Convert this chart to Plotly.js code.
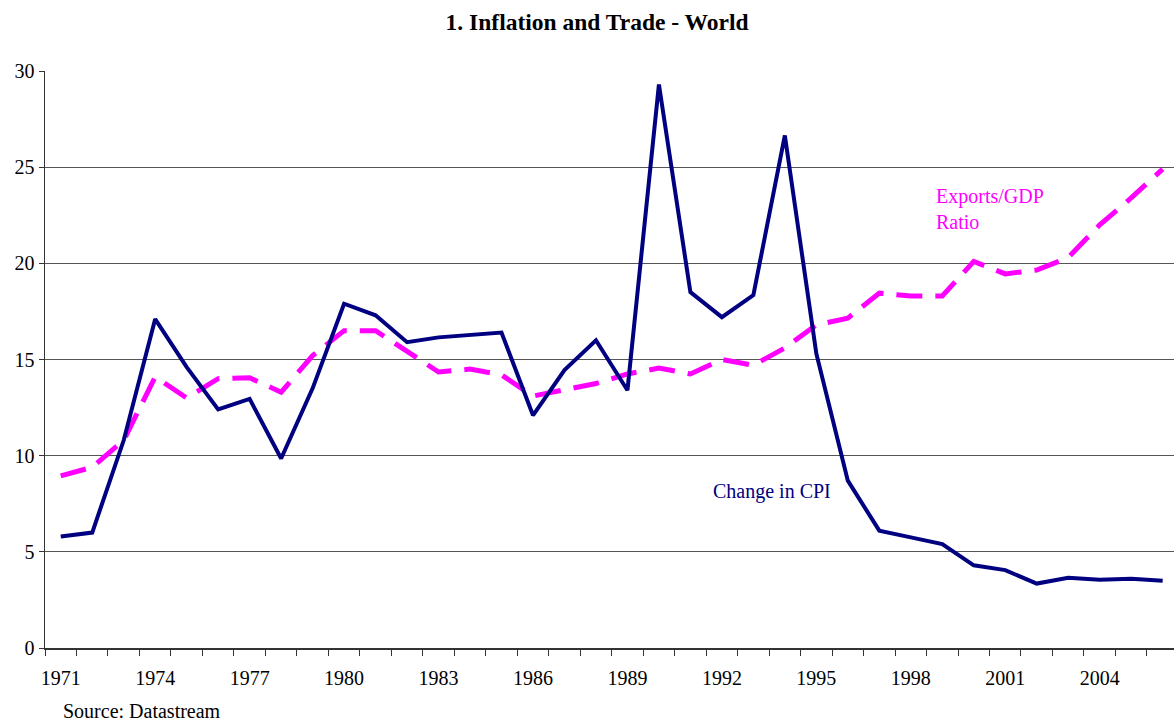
<!DOCTYPE html>
<html>
<head>
<meta charset="utf-8">
<script src="https://cdn.plot.ly/plotly-3.0.1.min.js"></script>
<style>html,body{margin:0;padding:0;background:#fff;}#chart{width:1174px;height:721px;}</style>
</head>
<body>
<div id="chart"></div>
<script>
const years = [1971,1972,1973,1974,1975,1976,1977,1978,1979,1980,1981,1982,1983,1984,1985,1986,1987,1988,1989,1990,1991,1992,1993,1994,1995,1996,1997,1998,1999,2000,2001,2002,2003,2004,2005,2006];
const cpiChange = [5.8,6.0,10.8,17.1,14.6,12.4,12.95,9.85,13.5,17.9,17.3,15.9,16.15,16.25,16.4,12.1,14.45,16.0,13.4,29.3,18.5,17.2,18.35,26.65,15.3,8.7,6.1,5.75,5.4,4.3,4.05,3.35,3.65,3.55,3.6,3.5];
const exportsGdp = [8.95,9.4,10.8,14.1,13.0,14.0,14.05,13.3,15.2,16.5,16.5,15.4,14.35,14.5,14.2,13.1,13.4,13.75,14.25,14.55,14.25,15.0,14.7,15.6,16.8,17.15,18.45,18.3,18.3,20.1,19.45,19.65,20.3,22.0,23.4,24.9];
const tickYears = [1971,1974,1977,1980,1983,1986,1989,1992,1995,1998,2001,2004];

const serif = 'Liberation Serif, Times New Roman, serif';

const traces = [
  {x: years, y: exportsGdp, type: 'scatter', mode: 'lines', name: 'Exports/GDP Ratio',
   line: {color: '#ff00ff', width: 5, dash: '26px,13px'}},
  {x: years, y: cpiChange, type: 'scatter', mode: 'lines', name: 'Change in CPI',
   line: {color: '#000080', width: 4}}
];

const layout = {
  width: 1174, height: 721,
  margin: {l: 45, r: 0, t: 71, b: 73, pad: 0},
  paper_bgcolor: '#fff', plot_bgcolor: '#fff',
  showlegend: false,
  font: {family: serif, color: '#000', size: 20},
  title: {text: '<b>1. Inflation and Trade - World</b>', x: 0.489, xref: 'paper', y: 0.97, yanchor: 'middle',
          font: {family: serif, size: 23.5, color: '#000'}},
  xaxis: {
    range: [1970.5, 2006.36], showgrid: false, zeroline: false,
    showline: true, linecolor: '#333', linewidth: 1.5,
    tickmode: 'array', tickvals: tickYears, ticktext: tickYears.map(String),
    ticks: '', ticklabelstandoff: 11,
    minor: {tick0: 1970.5, dtick: 1, ticks: 'outside', ticklen: 6, tickcolor: '#333', showgrid: false},
    tickfont: {family: serif, size: 20, color: '#000'}
  },
  yaxis: {
    range: [0, 30], tickvals: [0,5,10,15,20,25,30],
    showgrid: true, gridcolor: '#555', gridwidth: 1, zeroline: false,
    showline: true, linecolor: '#333', linewidth: 1.5,
    ticks: 'outside', ticklen: 5, tickcolor: '#333',
    tickfont: {family: serif, size: 20, color: '#000'}
  },
  annotations: [
    {x: 1998.75, y: 22.8, xref: 'x', yref: 'y', text: 'Exports/GDP<br>Ratio', showarrow: false,
     xanchor: 'left', align: 'left', font: {family: serif, size: 20, color: '#ff00ff'}},
    {x: 1991.65, y: 8.15, xref: 'x', yref: 'y', text: 'Change in CPI', showarrow: false,
     xanchor: 'left', font: {family: serif, size: 20, color: '#000080'}},
    {x: 0.014, y: -0.109, xref: 'paper', yref: 'paper', text: 'Source: Datastream', showarrow: false,
     xanchor: 'left', yanchor: 'middle', font: {family: serif, size: 20, color: '#000'}}
  ]
};

Plotly.newPlot('chart', traces, layout, {staticPlot: true, displayModeBar: false});
</script>
</body>
</html>
